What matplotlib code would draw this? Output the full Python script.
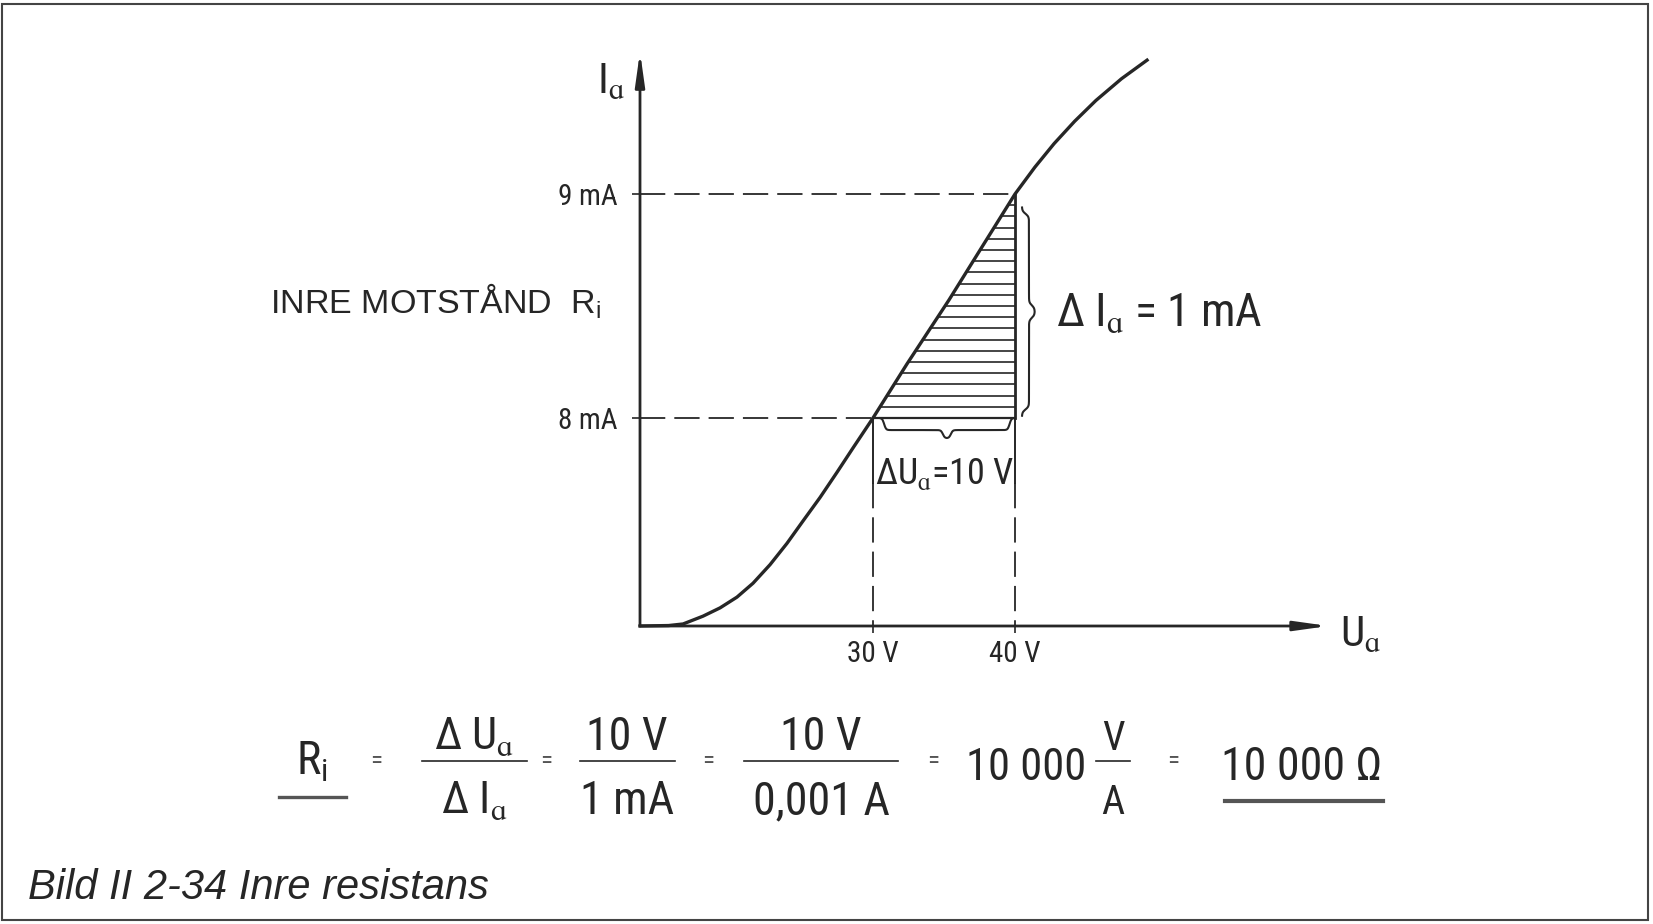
import numpy as np
import matplotlib.pyplot as plt
from matplotlib import font_manager as fm
from matplotlib.lines import Line2D
from matplotlib.patches import Rectangle

W, H = 1653, 924
INK = "#262626"
REG = ["Liberation Sans", "DejaVu Sans"]

# anode characteristic Ia(Ua) (V, mA)
CURVE_U = [13.59, 15.60, 16.62, 18.03, 19.23, 20.42, 21.55, 22.75, 23.94, 25.07,
           26.27, 27.46, 28.59, 30.00, 32.39, 35.35, 37.54, 40.00, 41.40, 42.75,
           44.20, 45.70, 47.50, 49.30]
CURVE_I = [7.071, 7.073, 7.080, 7.115, 7.152, 7.200, 7.262, 7.345, 7.440, 7.540,
           7.645, 7.757, 7.866, 8.000, 8.241, 8.527, 8.750, 9.000, 9.120, 9.225,
           9.325, 9.418, 9.515, 9.598]

U_TICKS = [30, 40]
U_LABELS = ["30 V", "40 V"]
I_TICKS = [8, 9]
I_LABELS = ["8 mA", "9 mA"]
U_LIM = (13.59, 61.48)
I_LIM = (7.071, 9.621)

U_LO, U_HI = 30, 40   # delta Ua
I_LO, I_HI = 8, 9     # delta Ia
HATCH_STEP = 0.05

# pick a condensed face if one is installed (drawing uses a DIN-like narrow type)
order = ["Liberation Sans Narrow", "Roboto Condensed", "DejaVu Sans", "Noto Sans",
         "Open Sans", "Roboto"]
found = []
for f in fm.fontManager.ttflist:
    w = f.weight if isinstance(f.weight, int) else 400
    if f.style != "normal" or w != 400:
        continue
    if "Narrow" in f.name or "Condensed" in f.name or f.stretch in (
            "condensed", "semi-condensed", "extra-condensed"):
        found.append(f)
found.sort(key=lambda f: order.index(f.name) if f.name in order else 99)
if found:
    NARROW = [found[0].name, "DejaVu Sans"]
    plt.rcParams["font.stretch"] = found[0].stretch
    K = 1.0
else:
    NARROW = ["Liberation Sans", "DejaVu Sans"]
    K = 0.86
plt.rcParams["font.family"] = NARROW


def fx(x):
    return x / W


def fy(y):
    return 1 - y / H


def brace(ax, a, b, base, depth, vertical=False, flat=0.6, **kw):
    t = np.linspace(0, 1, 301)
    s = np.where(t < 0.5, 2 * t, 2 * (1 - t))
    prof = depth * (flat / (1 + np.exp(-(s - 0.06) * 70))
                    + (1 - flat) / (1 + np.exp(-(s - 0.94) * 70)))
    along = a + (b - a) * t
    across = base + prof
    if vertical:
        ax.plot(across, along, **kw)
    else:
        ax.plot(along, across, **kw)


fig = plt.figure(figsize=(W / 100, H / 100), dpi=100)
ax = fig.add_axes([fx(640), fy(626), (1320 - 640) / W, (626 - 55) / H])
ax.set_xlim(*U_LIM)
ax.set_ylim(*I_LIM)
for sp in ax.spines.values():
    sp.set_visible(False)

# axes with arrows
arrow = dict(arrowstyle="-|>,head_length=2.0,head_width=0.28", color=INK, lw=2,
             shrinkA=0, shrinkB=0, mutation_scale=10)
ax.annotate("", xy=(U_LIM[1] + 0.6, I_LIM[0]), xytext=(U_LIM[0], I_LIM[0]),
            arrowprops=arrow, annotation_clip=False)
ax.annotate("", xy=(U_LIM[0], I_LIM[1] + 0.015), xytext=(U_LIM[0], I_LIM[0]),
            arrowprops=arrow, annotation_clip=False)

ax.set_xticks(U_TICKS, U_LABELS)
ax.set_yticks(I_TICKS, I_LABELS)
ax.tick_params(axis="x", length=5, width=1.2, pad=5, labelsize=21 * K, colors=INK)
ax.tick_params(axis="y", length=6, width=1.2, pad=10, labelsize=21 * K, colors=INK)

# curve
ax.plot(CURVE_U, CURVE_I, color=INK, lw=2.4, clip_on=False, zorder=4,
        solid_joinstyle="round")

# dashed guide lines
dash = dict(color=INK, lw=1.3, linestyle=(0, (14, 5)))
ax.plot([U_LIM[0], U_HI], [I_HI, I_HI], **dash)
ax.plot([U_LIM[0], U_LO], [I_LO, I_LO], **dash)
lab_bottom = 7.71
for u in (U_LO, U_HI):
    ax.plot([u, u], [lab_bottom, I_LIM[0]], **dash)
    ax.plot([u, u], [I_LO, lab_bottom], color=INK, lw=1.4)

# hatched triangle
ax.plot([U_LO, U_HI], [I_LO, I_LO], color=INK, lw=1.6)
ax.plot([U_HI, U_HI], [I_LO, I_HI], color=INK, lw=2)
for yy in np.arange(I_LO + HATCH_STEP, I_HI - 0.02, HATCH_STEP):
    xl = np.interp(yy, CURVE_I, CURVE_U)
    ax.plot([xl, U_HI], [yy, yy], color=INK, lw=1.2)

# braces
brace(ax, U_LO + 0.5, U_HI - 0.1, I_LO, -0.09, color=INK, lw=1.5, clip_on=False)
brace(ax, I_LO + 0.01, I_HI - 0.06, U_HI + 0.49, 0.9, vertical=True, flat=0.55,
      color=INK, lw=1.5, clip_on=False)

# axis names and annotations
fig.text(fx(597), fy(93), r"I$_\mathregular{ɑ}$", size=31 * K, color=INK, va="baseline")
fig.text(fx(1340), fy(646), r"U$_\mathregular{ɑ}$", size=31 * K, color=INK, va="baseline")
fig.text(fx(270), fy(313), r"INRE MOTSTÅND  R$_\mathregular{i}$", family=REG,
         fontstretch="normal", size=24.5, color=INK, va="baseline")
fig.text(fx(1056), fy(326), r"Δ I$_\mathregular{ɑ}$ = 1 mA", size=33 * K, color=INK,
         va="baseline")
fig.text(fx(875), fy(484), r"ΔU$_\mathregular{ɑ}$=10 V", size=26 * K, color=INK,
         va="baseline")

# formula
NUM_Y, DEN_Y, BAR_Y, MID_Y = 750, 814, 761, 780


def ftext(x, y, s, size=33, **kw):
    fig.text(fx(x), fy(y), s, size=size * K, color=INK, ha="center", va="baseline", **kw)


def fline(x0, x1, y, lw=1.2, color=INK):
    fig.add_artist(Line2D([fx(x0), fx(x1)], [fy(y), fy(y)], color=color, lw=lw,
                          transform=fig.transFigure))


def equals(x):
    fig.text(fx(x), fy(BAR_Y), "=", size=18, color="#555555", ha="center", va="center")


ftext(312, 775, r"R$_\mathregular{i}$")
fline(279, 346, 797, lw=2.4, color="#555555")
equals(376)
ftext(474, NUM_Y, r"Δ U$_\mathregular{ɑ}$", size=32)
fline(422, 527, BAR_Y)
ftext(474, DEN_Y, r"Δ I$_\mathregular{ɑ}$", size=32)
equals(546)
ftext(627, NUM_Y, "10 V")
fline(580, 675, BAR_Y)
ftext(627, DEN_Y, "1 mA")
equals(708)
ftext(821, NUM_Y, "10 V")
fline(744, 898, BAR_Y)
ftext(821, DEN_Y, "0,001 A")
equals(933)
ftext(1026, MID_Y, "10 000", size=32)
ftext(1113, NUM_Y, "V", size=29)
fline(1096, 1130, BAR_Y)
ftext(1113, DEN_Y, "A", size=29)
equals(1173)
ftext(1302, MID_Y, "10 000 Ω")
fline(1225, 1383, 801, lw=3, color="#555555")

# caption and frame
fig.text(fx(28), fy(899), "Bild II 2-34 Inre resistans", family=REG, style="italic",
         fontstretch="normal", size=30, color=INK, va="baseline")
fig.add_artist(Rectangle((fx(2), fy(920)), (1648 - 2) / W, (920 - 4) / H,
                         transform=fig.transFigure, fill=False, lw=1.5, ec="#444444"))

fig.savefig("out.png", dpi=100, facecolor="white")
